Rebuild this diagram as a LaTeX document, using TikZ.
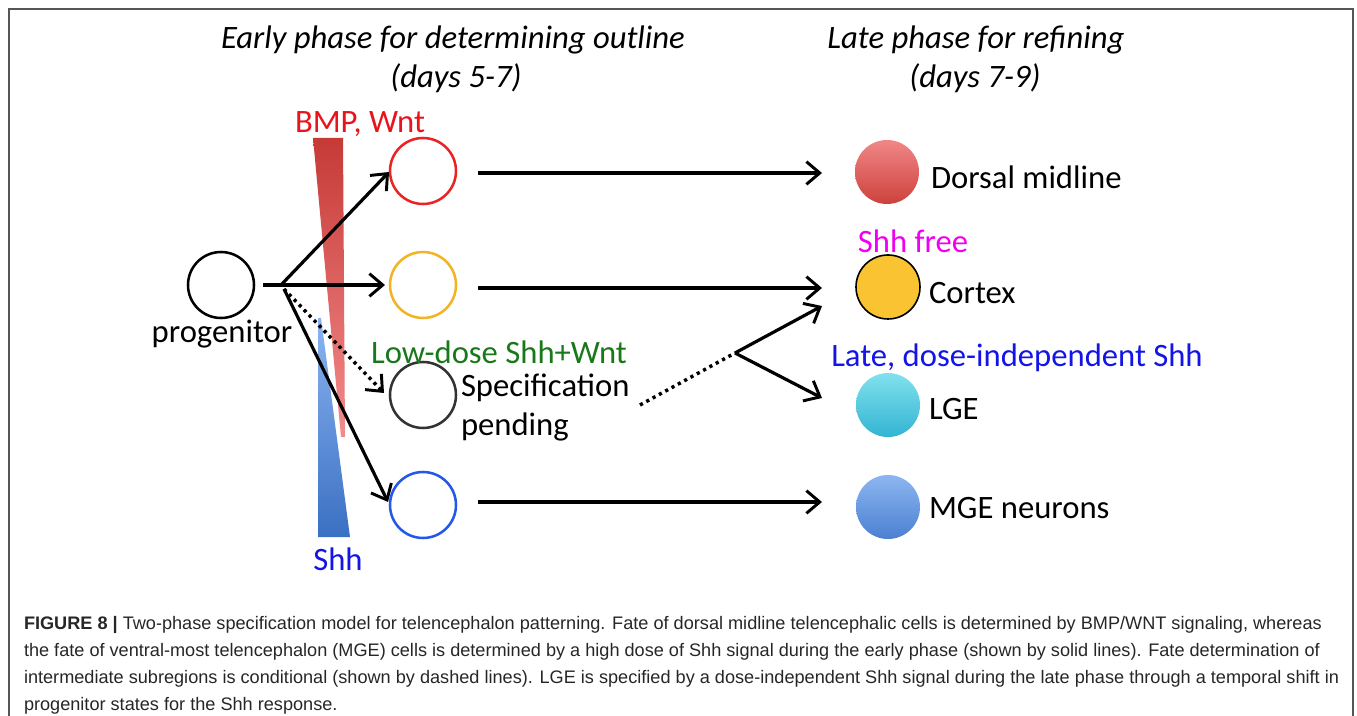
\documentclass[tikz,border=0pt]{standalone}
\usepackage{fontspec}
\setmainfont{Carlito}
\newfontfamily\capfont{Liberation Sans}
\usetikzlibrary{arrows.meta}
\definecolor{framegray}{HTML}{555555}
\definecolor{bmpred}{HTML}{E8141C}
\definecolor{shhblue}{HTML}{1414E6}
\definecolor{lowgreen}{HTML}{197819}
\definecolor{shhmag}{HTML}{F000F0}
\definecolor{ringred}{HTML}{E82424}
\definecolor{ringorange}{HTML}{F2B424}
\definecolor{ringblue}{HTML}{2458E8}
\definecolor{capgray}{HTML}{262626}
\begin{document}
\begin{tikzpicture}[x=0.75pt,y=-0.75pt,
  every node/.style={inner sep=0pt,outer sep=0pt},
  ring/.style={circle,draw,line width=1.9pt,minimum size=49.5pt},
  fate/.style={circle,minimum size=48pt},
  big/.style={font=\fontsize{24.5}{28}\selectfont},
  lbl/.style={big,anchor=west},
  ttl/.style={font=\fontsize{24.5}{28}\selectfont\itshape},
  tip/.style={-{Straight Barb[length=10pt,width=17pt,line width=2.2pt]}},
  arr/.style={line width=2.4pt,tip},
  dotline/.style={line width=2.6pt,dash pattern=on 2.4pt off 3pt},
  capline/.style={font=\capfont\fontsize{13.6}{15}\selectfont,text=capgray,anchor=west}
]
\useasboundingbox (0,0) rectangle (1357,716);
\draw[framegray,line width=1.2pt] (9,716) -- (9,9) -- (1353,9) -- (1353,716);

% titles
\node[ttl] (t1a) at (453,40) {Early phase for determining outline};
\node[ttl] (t1b) at (456,78) {(days 5-7)};
\node[ttl] (t2a) at (976,40) {Late phase for refining};
\node[ttl] (t2b) at (975,78) {(days 7-9)};

% gradients
\shade[top color={rgb,255:red,198;green,58;blue,54}, bottom color={rgb,255:red,242;green,140;blue,140}, draw=none]
  (313,138) -- (343,138) -- (345,437) -- (341,437) -- cycle;
\shade[top color={rgb,255:red,140;green,180;blue,240}, bottom color={rgb,255:red,58;green,112;blue,195}, draw=none]
  (318,318) -- (321,318) -- (350,537) -- (318,537) -- cycle;
\node[big,text=bmpred] (bmp) at (360,124) {BMP, Wnt};
\node[big,text=shhblue] (shh) at (338,559) {Shh};

% progenitor
\node[ring,draw=black] (prog) at (221,285) {};
\node[big] (progl) at (222,334) {progenitor};
\coordinate (stem) at (263,285);
\coordinate (br) at (281,285);
\draw[line width=2.4pt] (stem) -- (br);

% early circles
\node[ring,draw=ringred] (c1) at (423,171) {};
\node[ring,draw=ringorange] (c2) at (423,285) {};
\node[ring,draw=black!80] (c3) at (423,395) {};
\node[ring,draw=ringblue] (c4) at (423,505) {};

\coordinate (e1) at (389,172);
\coordinate (e2) at (385,285);
\coordinate (e3) at (384,393);
\coordinate (e4) at (388,502);
\coordinate (bd) at (284,289);
\draw[arr] (br) -- (e1);
\draw[arr] (br) -- (e2);
\draw[dotline,tip] (bd) -- (e3);
\draw[arr] (bd) -- (e4);

\node[big,text=lowgreen] (low) at (499,352) {Low-dose Shh+Wnt};
\node[lbl] (spec1) at (461,388) {Specification};
\node[lbl] (spec2) at (461,427) {pending};

% late circles
\node[fate,shade,top color={rgb,255:red,240;green,135;blue,135},bottom color={rgb,255:red,205;green,65;blue,60}] (d1) at (887,172) {};
\node[fate,draw=black,line width=1.2pt,fill={rgb,255:red,250;green,195;blue,50}] (d2) at (888,287) {};
\node[fate,shade,top color={rgb,255:red,130;green,225;blue,238},bottom color={rgb,255:red,50;green,180;blue,210}] (d3) at (888,405) {};
\node[fate,shade,top color={rgb,255:red,140;green,182;blue,240},bottom color={rgb,255:red,75;green,128;blue,210}] (d4) at (888,507) {};

\node[lbl] (l1) at (931,177) {Dorsal midline};
\node[lbl] (l2) at (929,293) {Cortex};
\node[lbl] (l3) at (929,409) {LGE};
\node[lbl] (l4) at (929,508) {MGE neurons};
\node[big,text=shhmag] (free) at (913,241) {Shh free};
\node[big,text=shhblue] (late) at (1017,358) {Late, dose-independent Shh};

% long arrows
\coordinate (s1) at (478,173);
\coordinate (f1) at (822,173);
\coordinate (s2) at (478,288);
\coordinate (f2) at (822,288);
\coordinate (s4) at (478,502);
\coordinate (f4) at (822,502);
\draw[arr] (s1) -- (f1);
\draw[arr] (s2) -- (f2);
\draw[arr] (s4) -- (f4);

\coordinate (dstart) at (640,405);
\coordinate (fork) at (735,353);
\coordinate (toC) at (822,306);
\coordinate (toL) at (822,398);
\draw[dotline] (dstart) -- (fork);
\draw[arr] (fork) -- (toC);
\draw[arr] (fork) -- (toL);

% caption
\node[capline] (cap1) at (24,625) {\textbf{FIGURE 8 |} Two-phase specification model for telencephalon patterning. Fate of dorsal midline telencephalic cells is determined by BMP/WNT signaling, whereas};
\node[capline] (cap2) at (24,652) {the fate of ventral-most telencephalon (MGE) cells is determined by a high dose of Shh signal during the early phase (shown by solid lines). Fate determination of};
\node[capline] (cap3) at (24,679) {intermediate subregions is conditional (shown by dashed lines). LGE is specified by a dose-independent Shh signal during the late phase through a temporal shift in};
\node[capline] (cap4) at (24,706) {progenitor states for the Shh response.};
\end{tikzpicture}
\end{document}
